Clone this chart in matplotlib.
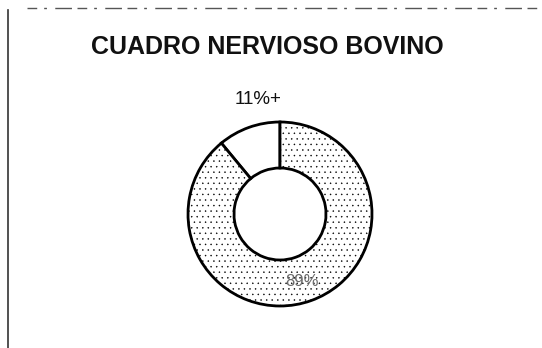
import matplotlib.pyplot as plt
from matplotlib.lines import Line2D

# Datos del gráfico
categorias = ["Otros", "Cuadro nervioso"]
porcentajes = [11, 89]
etiquetas = ["11%+", "89%"]

plt.rcParams['font.family'] = ['Liberation Sans', 'DejaVu Sans']
plt.rcParams['hatch.color'] = '#9c9c9c'
plt.rcParams['hatch.linewidth'] = 0.3

fig = plt.figure(figsize=(5.42, 3.48), dpi=100)
fig.patch.set_facecolor('white')

# Marco del cuadro (borde izquierdo y superior escaneados)
fig.add_artist(Line2D([0.015, 0.015], [0.0, 0.97], transform=fig.transFigure,
                      color='#333333', lw=1.2))
fig.add_artist(Line2D([0.05, 1.0], [0.977, 0.977], transform=fig.transFigure,
                      color='#555555', lw=1.0, linestyle=(0, (7, 5, 2, 6, 12, 4))))

fig.text(267 / 542, 1 - 47 / 348, "CUADRO NERVIOSO BOVINO", ha='center', va='center',
         fontsize=18, fontweight='bold', color='#111111')

# Anillo: centro (280, 214) px, radio exterior ~92 px
ax = fig.add_axes([(280 - 92) / 542, 1 - (214 + 92) / 348, 184 / 542, 184 / 348])
wedges, _ = ax.pie(porcentajes, startangle=90, counterclock=True,
                   colors=['white', 'white'], radius=1.0,
                   wedgeprops=dict(width=0.5, edgecolor='black', linewidth=2.0))
wedges[1].set_hatch('...')
for w in wedges:
    w.set_clip_on(False)
ax.set_xlim(-1, 1)
ax.set_ylim(-1, 1)
ax.set_aspect('equal')

# Etiquetas de porcentaje
fig.text(258 / 542, 1 - 100 / 348, etiquetas[0], ha='center', va='center',
         fontsize=13.5, color='#111111')
fig.text(302 / 542, 1 - 281 / 348, etiquetas[1], ha='center', va='center',
         fontsize=12, color='#6a6a6a')

plt.savefig("out.png", dpi=100, facecolor='white')
